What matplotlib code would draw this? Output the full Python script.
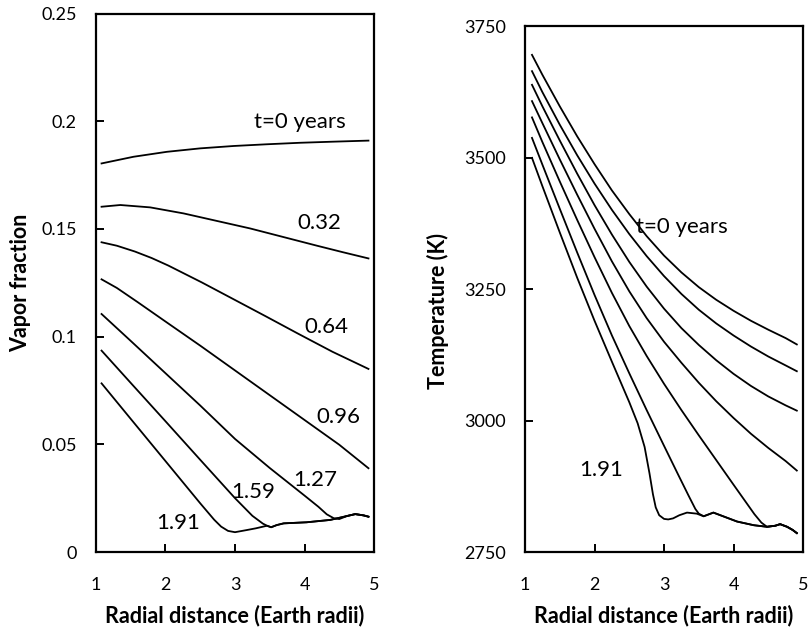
import matplotlib
matplotlib.use("Agg")
import matplotlib.pyplot as plt

plt.rcParams["font.family"] = ["Lato", "DejaVu Sans"]

# ---- left panel: vapor fraction vs radial distance ----
vap_x_0 = [1.08, 1.54, 2.02, 2.50, 2.98, 3.46, 3.94, 4.41, 4.92]
vap_y_0 = [0.1804, 0.1835, 0.1858, 0.1874, 0.1885, 0.1893, 0.1900, 0.1905, 0.1910]

vap_x_032 = [1.08, 1.35, 1.78, 2.26, 2.74, 3.22, 3.70, 4.18, 4.55, 4.92]
vap_y_032 = [0.1603, 0.1611, 0.1600, 0.1572, 0.1537, 0.1502, 0.1462, 0.1422,
             0.1392, 0.1363]

vap_x_064 = [1.08, 1.30, 1.56, 1.80, 2.04, 2.52, 3.00, 3.45, 3.90, 4.40, 4.92]
vap_y_064 = [0.1438, 0.1422, 0.1395, 0.1365, 0.1330, 0.1252, 0.1170, 0.1093,
             0.1015, 0.0930, 0.0850]

vap_x_096 = [1.08, 1.30, 1.60, 2.00, 2.50, 3.00, 3.50, 4.00, 4.50, 4.92]
vap_y_096 = [0.1266, 0.1226, 0.1160, 0.1070, 0.0958, 0.0843, 0.0728, 0.0613,
             0.0498, 0.0389]

vap_x_127 = [1.08, 1.50, 2.00, 2.50, 3.00, 3.50, 4.00, 4.20, 4.32, 4.42, 4.50,
             4.61, 4.73, 4.85, 4.92]
vap_y_127 = [0.1105, 0.0980, 0.0830, 0.0680, 0.0525, 0.0390, 0.0262, 0.0210,
             0.0175, 0.0157, 0.0153, 0.0167, 0.0176, 0.0170, 0.0164]

vap_x_159 = [1.08, 1.50, 2.00, 2.50, 3.00, 3.25, 3.40, 3.46, 3.52, 3.60, 3.70,
             4.03, 4.37, 4.61, 4.73, 4.85, 4.92]
vap_y_159 = [0.0935, 0.0785, 0.0607, 0.0428, 0.0250, 0.0168, 0.0132, 0.0122,
             0.0115, 0.0125, 0.0133, 0.0138, 0.0149, 0.0167, 0.0176, 0.0170, 0.0164]

vap_x_191 = [1.08, 1.50, 2.00, 2.50, 2.70, 2.80, 2.90, 3.00, 3.17, 3.30, 3.46,
             3.52, 3.60, 3.70, 4.03, 4.37, 4.61, 4.73, 4.85, 4.92]
vap_y_191 = [0.0783, 0.0618, 0.0422, 0.0226, 0.0150, 0.0118, 0.0098, 0.0092,
             0.0102, 0.0110, 0.0122, 0.0115, 0.0125, 0.0133, 0.0138, 0.0149,
             0.0167, 0.0176, 0.0170, 0.0164]

vap_labels = ["t=0 years", "0.32", "0.64", "0.96", "1.27", "1.59", "1.91"]
vap_label_x = [3.94, 4.21, 4.32, 4.49, 4.15, 3.26, 2.18]
vap_label_y = [0.1996, 0.1527, 0.1046, 0.0628, 0.0334, 0.0280, 0.0133]

# ---- right panel: temperature vs radial distance ----
tmp_x_grid = [1.10, 1.25, 1.50, 1.75, 2.00, 2.25, 2.50, 2.75, 3.00, 3.25, 3.50,
              3.75, 4.00, 4.25, 4.50, 4.75, 4.91]
tmp_y_0 = [3696, 3658, 3598, 3541, 3488, 3438, 3393, 3351, 3314, 3282, 3254,
           3230, 3209, 3190, 3173, 3157, 3145]
tmp_y_032 = [3665, 3625, 3563, 3505, 3451, 3401, 3355, 3313, 3275, 3241, 3211,
             3185, 3162, 3141, 3122, 3105, 3094]
tmp_y_064 = [3639, 3598, 3533, 3470, 3410, 3354, 3302, 3255, 3213, 3176, 3144,
             3115, 3089, 3066, 3046, 3029, 3019]
tmp_y_096 = [3608, 3566, 3497, 3430, 3365, 3303, 3246, 3195, 3150, 3110, 3072,
             3037, 3005, 2975, 2948, 2923, 2905]

tmp_x_127 = [1.10, 1.25, 1.50, 1.75, 2.00, 2.25, 2.50, 2.75, 3.00, 3.25, 3.50,
             3.75, 4.00, 4.15, 4.30, 4.40, 4.48, 4.60, 4.67, 4.77, 4.85, 4.91]
tmp_y_127 = [3577, 3530, 3455, 3382, 3311, 3243, 3180, 3123, 3070, 3020, 2972,
             2925, 2878, 2850, 2822, 2806, 2798, 2800, 2803, 2798, 2792, 2786]

tmp_x_159 = [1.10, 1.25, 1.50, 1.75, 2.00, 2.25, 2.50, 2.75, 3.00, 3.20, 3.35,
             3.45, 3.50, 3.57, 3.65, 3.71, 3.81, 4.05, 4.29, 4.48, 4.60, 4.67,
             4.77, 4.85, 4.91]
tmp_y_159 = [3538, 3487, 3403, 3320, 3239, 3162, 3090, 3020, 2952, 2898, 2858,
             2832, 2823, 2818, 2822, 2825, 2820, 2808, 2801, 2798, 2800, 2803,
             2798, 2792, 2786]

tmp_x_191 = [1.10, 1.25, 1.50, 1.75, 2.00, 2.25, 2.50, 2.62, 2.72, 2.79, 2.84,
             2.88, 2.93, 3.00, 3.06, 3.13, 3.22, 3.33, 3.47, 3.57, 3.65, 3.71,
             3.81, 4.05, 4.29, 4.48, 4.60, 4.67, 4.77, 4.85, 4.91]
tmp_y_191 = [3500, 3446, 3358, 3272, 3190, 3112, 3035, 2995, 2950, 2900, 2860,
             2835, 2820, 2813, 2812, 2814, 2820, 2825, 2823, 2818, 2822, 2825,
             2820, 2808, 2801, 2798, 2800, 2803, 2798, 2792, 2786]

x_ticks = [1, 2, 3, 4, 5]
vap_ticks = [0, 0.05, 0.1, 0.15, 0.2, 0.25]
vap_tick_labels = ["0", "0.05", "0.1", "0.15", "0.2", "0.25"]
tmp_ticks = [2750, 3000, 3250, 3500, 3750]

LW = 1.3
TICK_FS = 13
ANN_FS = 16
LAB_FS = 15.5


def style_axes(ax):
    for side in ("top", "right", "left", "bottom"):
        ax.spines[side].set_linewidth(1.6)
    ax.tick_params(direction="in", length=6, width=1.4, labelsize=TICK_FS,
                   top=False, right=False)
    ax.tick_params(axis="y", pad=14)
    ax.tick_params(axis="x", pad=18)
    ax.set_xlim(1, 5)
    ax.set_xticks(x_ticks)
    ax.set_xlabel("Radial distance (Earth radii)", fontsize=LAB_FS, fontweight="bold")


fig = plt.figure(figsize=(8.08, 6.29), dpi=100)
ax1 = fig.add_axes([0.1188, 0.1224, 0.3441, 0.8561])
ax2 = fig.add_axes([0.6498, 0.1224, 0.3441, 0.8355])

# left
for xs, ys in [(vap_x_0, vap_y_0), (vap_x_032, vap_y_032), (vap_x_064, vap_y_064),
               (vap_x_096, vap_y_096), (vap_x_127, vap_y_127),
               (vap_x_159, vap_y_159), (vap_x_191, vap_y_191)]:
    ax1.plot(xs, ys, color="black", lw=LW, solid_joinstyle="round")
for txt, lx, ly in zip(vap_labels, vap_label_x, vap_label_y):
    ax1.text(lx, ly, txt, fontsize=ANN_FS, ha="center", va="center")
style_axes(ax1)
ax1.set_ylim(0, 0.25)
ax1.set_yticks(vap_ticks)
ax1.set_yticklabels(vap_tick_labels)
ax1.set_ylabel("Vapor fraction", fontsize=LAB_FS, fontweight="bold")
ax1.yaxis.set_label_coords(-0.232, 0.5)
ax1.xaxis.set_label_coords(0.5, -0.098)

# right
for xs, ys in [(tmp_x_grid, tmp_y_0), (tmp_x_grid, tmp_y_032),
               (tmp_x_grid, tmp_y_064), (tmp_x_grid, tmp_y_096),
               (tmp_x_127, tmp_y_127), (tmp_x_159, tmp_y_159),
               (tmp_x_191, tmp_y_191)]:
    ax2.plot(xs, ys, color="black", lw=LW, solid_joinstyle="round")
ax2.text(2.60, 3369, "t=0 years", fontsize=ANN_FS, ha="left", va="center")
ax2.text(2.10, 2906, "1.91", fontsize=ANN_FS, ha="center", va="center")
style_axes(ax2)
ax2.set_ylim(2750, 3750)
ax2.set_yticks(tmp_ticks)
ax2.set_ylabel("Temperature (K)", fontsize=LAB_FS, fontweight="bold")
ax2.yaxis.set_label_coords(-0.272, 0.459)
ax2.xaxis.set_label_coords(0.5, -0.101)

fig.savefig("out.png", dpi=100)
